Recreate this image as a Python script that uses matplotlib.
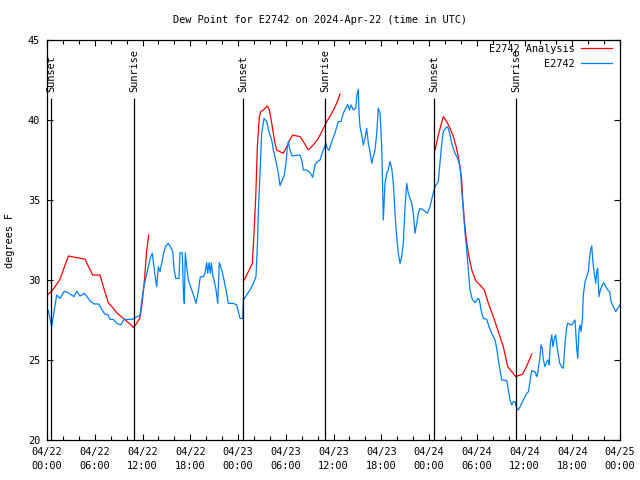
import numpy as np
import pandas as pd
import matplotlib
matplotlib.use("Agg")
import matplotlib.pyplot as plt
import matplotlib.dates as mdates

start = pd.Timestamp("2024-04-22 00:00")

# observed dew point (hours since 04/22 00:00 UTC, deg F)
obs_hours = [0.16, 0.38, 0.59, 1.22, 1.63, 2.17, 2.68, 3.10, 3.39, 3.73, 4.15, 4.69, 5.11, 5.40, 5.94,
             6.53, 6.87, 7.29, 7.63, 7.92, 8.33, 8.76, 9.26, 9.68, 10.22, 10.72, 11.27, 11.69, 12.03, 12.31,
             12.73, 13.03, 13.23, 13.36, 13.57, 13.78, 13.99, 14.20, 14.41, 14.70, 14.95, 15.24, 15.54, 15.80,
             15.96, 16.17, 16.59, 16.71, 17.00, 17.13, 17.25, 17.38, 17.55, 17.76, 18.18, 18.47, 18.72, 19.01,
             19.26, 19.64, 19.85, 20.07, 20.19, 20.36, 20.52, 20.65, 20.82, 20.99, 21.24, 21.45, 21.65, 21.95,
             22.24, 22.49, 22.78, 23.41, 23.84, 24.04, 24.25, 24.59, 24.67, 25.09, 25.51, 25.92, 26.26, 26.43,
             26.55, 26.77, 26.98, 27.27, 27.61, 27.94, 28.24, 28.44, 28.65, 28.86, 29.07, 29.28, 29.57, 29.82,
             30.03, 30.20, 30.32, 30.54, 30.82, 31.38, 31.79, 32.01, 32.21, 32.63, 33.05, 33.39, 33.68, 33.97,
             34.31, 34.64, 35.06, 35.22, 35.44, 35.78, 36.19, 36.61, 36.94, 37.23, 37.54, 37.79, 37.99, 38.20,
             38.49, 38.79, 38.95, 39.12, 39.21, 39.33, 39.55, 39.75, 39.96, 40.17, 40.38, 40.59, 40.80, 41.00,
             41.22, 41.43, 41.63, 41.85, 42.06, 42.26, 42.47, 42.69, 42.89, 43.10, 43.32, 43.52, 43.73, 43.94,
             44.14, 44.36, 44.57, 44.77, 44.99, 45.20, 45.40, 45.61, 45.83, 46.03, 46.24, 46.46, 46.66, 46.87,
             47.29, 47.79, 48.13, 48.42, 48.76, 49.17, 49.38, 49.60, 49.80, 50.23, 50.43, 50.64, 50.86, 51.06,
             51.27, 51.61, 51.90, 52.02, 52.11, 52.31, 52.53, 52.74, 52.94, 53.15, 53.44, 53.78, 54.12, 54.32,
             54.54, 54.83, 55.25, 55.54, 55.88, 56.30, 56.51, 56.71, 56.92, 57.14, 57.34, 57.77, 57.97, 58.18,
             58.40, 58.60, 58.81, 59.02, 59.22, 59.44, 59.85, 60.28, 60.50, 60.78, 60.91, 61.32, 61.54, 61.66,
             61.83, 61.95, 62.08, 62.24, 62.37, 62.58, 62.79, 63.00, 63.08, 63.25, 63.42, 63.58, 63.75, 63.92,
             64.09, 64.25, 64.43, 64.68, 64.88, 65.09, 65.31, 65.43, 65.93, 66.35, 66.56, 66.69, 66.85, 66.98,
             67.10, 67.27, 67.39, 67.61, 67.82, 68.02, 68.11, 68.27, 68.45, 68.61, 68.77, 68.95, 69.08, 69.20,
             69.36, 69.53, 69.78, 69.96, 70.21, 70.46, 70.71, 70.87, 71.16, 71.46, 71.71, 72.00]
obs_vals = [28.1, 27.6, 27.1, 29.06, 28.85, 29.3, 29.2, 29.06, 28.96, 29.3, 29.0, 29.17, 28.9, 28.69, 28.5,
            28.5, 28.17, 27.85, 27.85, 27.54, 27.54, 27.29, 27.19, 27.54, 27.54, 27.54, 27.7, 27.8, 29.17, 29.9,
            30.83, 31.46, 31.67, 31.15, 30.31, 29.58, 30.83, 30.52, 31.04, 31.77, 32.13, 32.29, 32.04, 31.77,
            30.73, 30.1, 30.1, 31.7, 31.7, 29.38, 28.54, 31.7, 30.83, 30.0, 29.38, 28.96, 28.54, 29.27,
            30.2, 30.2, 30.42, 31.08, 30.42, 31.08, 30.42, 31.08, 30.31, 30.0, 29.38, 28.54, 31.08, 30.63,
            30.0, 29.38, 28.54, 28.54, 28.44, 28.02, 27.6, 27.6, 28.75, 29.06, 29.38, 29.79, 30.21, 32.08,
            34.17, 36.67, 39.17, 40.1, 39.9, 39.17, 38.75, 38.13, 37.7, 37.2, 36.67, 35.9, 36.25, 36.56,
            37.3, 38.33, 38.65, 38.1, 37.75, 37.8, 37.8, 37.5, 36.88, 36.88, 36.7, 36.42, 37.2, 37.4,
            37.5, 38.02, 38.54, 38.23, 38.1, 38.65, 39.2, 39.9, 39.9, 40.42, 40.73, 40.98, 40.63, 40.94,
            40.63, 40.73, 41.56, 41.92, 40.42, 39.58, 39.06, 38.44, 38.85, 39.48, 38.54, 38.02, 37.3, 37.7,
            38.13, 39.17, 40.73, 40.42, 38.33, 33.75, 36.04, 36.67, 36.88, 37.4, 36.98, 36.04, 34.17, 32.71,
            31.67, 31.04, 31.46, 32.29, 34.58, 36.04, 35.42, 35.1, 34.79, 34.17, 32.92, 33.54, 34.17, 34.48,
            34.38, 34.17, 34.58, 35.21, 35.83, 36.15, 37.29, 38.54, 39.27, 39.58, 39.48, 39.06, 38.54, 38.23,
            37.92, 37.6, 37.08, 36.35, 35.63, 34.38, 32.92, 31.88, 30.63, 29.38, 28.79, 28.58, 28.85, 28.79,
            28.13, 27.6, 27.54, 27.08, 26.67, 26.25, 25.73, 25.0, 24.38, 23.75, 23.75, 23.71, 23.13, 22.5,
            22.19, 22.4, 22.4, 21.98, 21.88, 22.08, 22.5, 22.92, 23.02, 23.96, 24.33, 24.27, 23.96, 24.17,
            24.79, 25.21, 25.94, 25.73, 25.0, 24.58, 24.9, 25.0, 24.69, 26.04, 26.56, 25.83, 26.35, 26.56,
            25.83, 25.31, 24.79, 24.58, 24.48, 26.04, 27.08, 27.29, 27.19, 27.5, 25.73, 25.1, 26.88, 27.19,
            26.77, 27.5, 29.06, 29.9, 30.21, 30.52, 31.04, 31.77, 32.13, 31.04, 30.42, 29.79, 30.52, 30.73,
            28.96, 29.38, 29.69, 29.83, 29.58, 29.38, 29.27, 28.65, 28.33, 28.02, 28.23, 28.44]

# analysis (three runs, NaN separates them)
ana_hours = [0.13, 0.59, 1.01, 1.63, 2.05, 2.68, 3.73, 4.78, 5.12, 5.74, 6.66, 7.08, 7.70, 8.33, 8.76,
             9.59, 10.43, 10.85, 11.27, 11.69, 12.00, 12.28, 12.49, 12.78, 18.0,
             24.67, 25.09, 25.51, 25.80, 26.01, 26.23, 26.43, 26.68, 26.85, 27.27, 27.68, 27.94, 28.24, 28.44,
             28.65, 28.86, 29.28, 29.69, 30.12, 30.54, 30.87, 31.79, 32.21, 32.83, 33.46, 34.09, 34.64, 35.15,
             35.78, 36.40, 36.82, 42.0,
             48.76, 49.17, 49.51, 49.80, 50.23, 50.64, 51.06, 51.36, 51.69, 51.90, 52.11, 52.24, 52.44, 52.65,
             52.94, 53.37, 53.87, 54.41, 54.95, 55.46, 56.08, 56.71, 57.34, 57.89, 58.40, 58.90, 59.22, 59.73,
             60.15, 60.69, 60.91]
ana_vals = [29.1, 29.3, 29.58, 30.04, 30.63, 31.5, 31.4, 31.3, 30.94, 30.31, 30.31, 29.58, 28.58, 28.23, 27.96,
            27.6, 27.25, 27.04, 27.29, 27.65, 28.75, 30.2, 31.67, 32.81, np.nan,
            29.9, 30.31, 30.73, 31.04, 32.92, 35.21, 38.33, 40.21, 40.52, 40.67, 40.88, 40.63, 39.79, 39.17,
            38.54, 38.13, 38.02, 37.92, 38.33, 38.79, 39.06, 38.96, 38.65, 38.13, 38.44, 38.85, 39.38, 39.9,
            40.42, 41.04, 41.63, np.nan,
            38.13, 39.06, 39.69, 40.21, 39.9, 39.48, 38.96, 38.44, 37.71, 37.08, 36.25, 35.0, 33.75, 32.71,
            31.67, 30.63, 29.96, 29.69, 29.38, 28.54, 27.71, 26.77, 25.83, 24.58, 24.27, 23.96, 24.02, 24.1,
            24.48, 25.1, 25.38]

sun_hours = [0.55, 10.98, 24.6, 34.97, 48.65, 58.95]
sun_labels = ["Sunset", "Sunrise", "Sunset", "Sunrise", "Sunset", "Sunrise"]

plt.rcParams['font.family'] = ['DejaVu Sans Mono']
fs = 7.4

obs_t = start + pd.to_timedelta(obs_hours, unit="h")
ana_t = start + pd.to_timedelta(ana_hours, unit="h")
sun_t = start + pd.to_timedelta(sun_hours, unit="h")

fig = plt.figure(figsize=(6.4, 4.8), dpi=100)
ax = fig.add_axes([47 / 640, 40 / 480, 573 / 640, 400 / 480])

ax.plot(ana_t, ana_vals, color="#ff0000", lw=0.9, label="E2742 Analysis")
ax.plot(obs_t, obs_vals, color="#0080ff", lw=0.9, label="E2742")

for t, lab in zip(sun_t, sun_labels):
    ax.vlines(t, 20, 41.4, color="black", lw=0.9)
    ax.text(t, 41.75, lab, rotation=90, ha="center", va="bottom", fontsize=fs)

ax.set_xlim(start, start + pd.Timedelta(hours=72))
ax.set_ylim(20, 45)
ax.set_yticks([20, 25, 30, 35, 40, 45])
ax.xaxis.set_major_locator(mdates.HourLocator(byhour=[0, 6, 12, 18]))
ax.xaxis.set_minor_locator(mdates.HourLocator(byhour=range(0, 24, 2)))
ax.xaxis.set_major_formatter(mdates.DateFormatter("%m/%d\n%H:%M"))

ax.tick_params(which="both", direction="in", top=True, right=True, labelsize=fs, width=0.8)
ax.tick_params(which="major", length=4.5)
ax.tick_params(which="minor", length=3)
ax.tick_params(axis="x", pad=5)
ax.tick_params(axis="y", pad=5)
for lab in ax.get_xticklabels():
    lab.set_linespacing(1.55)
for s in ax.spines.values():
    s.set_linewidth(0.9)

ax.set_ylabel("degrees F", fontsize=fs, labelpad=9)
fig.text(0.5, 1 - 20 / 480, "Dew Point for E2742 on 2024-Apr-22 (time in UTC)",
         ha="center", va="center", fontsize=fs)

ax.legend(loc="upper right", bbox_to_anchor=(0.986, 0.99), frameon=False, fontsize=fs,
          markerfirst=False, handlelength=3.0, handletextpad=0.6, labelspacing=0.45,
          borderpad=0, borderaxespad=0)

fig.savefig("out.png", dpi=100)
